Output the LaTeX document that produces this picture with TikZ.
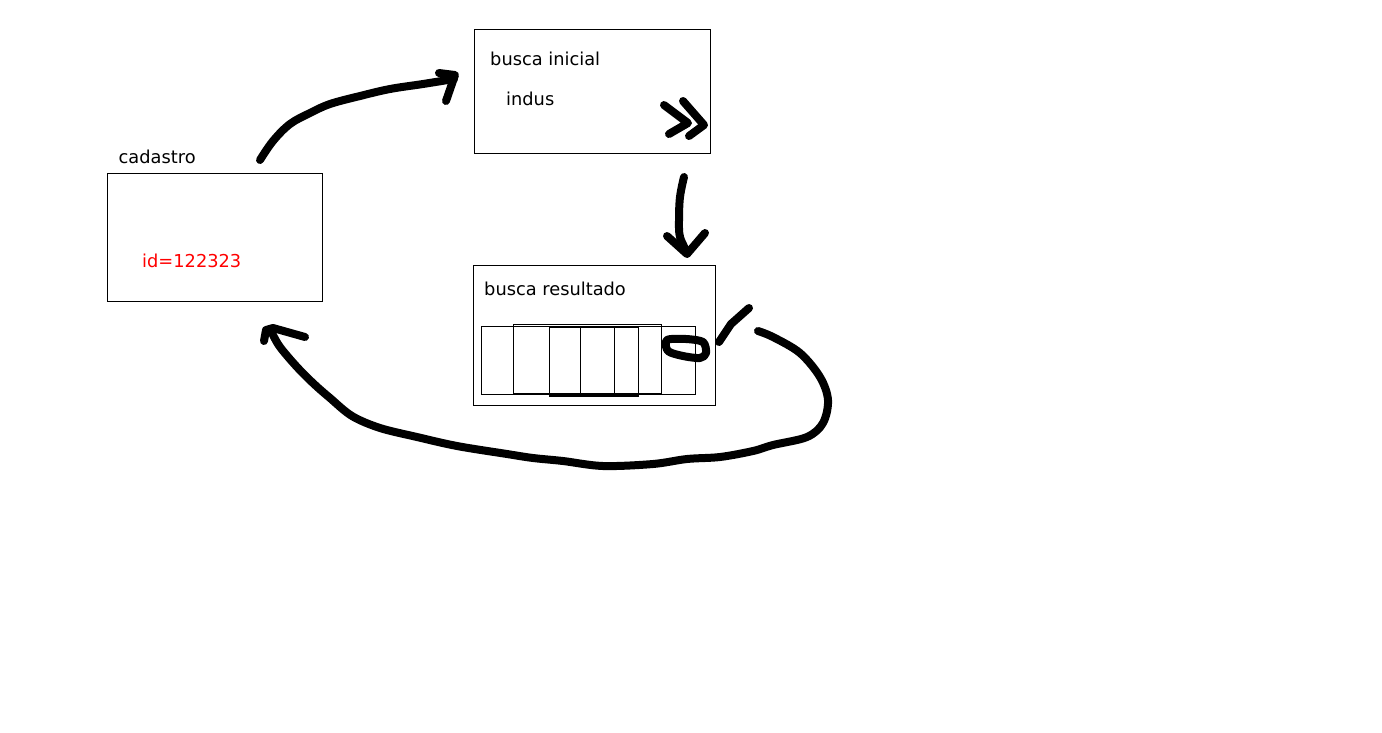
\documentclass[tikz,border=0pt]{standalone}
\usepackage{fontspec}
\setmainfont{DejaVu Sans}
\begin{document}
\begin{tikzpicture}[x=1pt,y=-1pt,
  box/.style={draw,line width=1pt,inner sep=0pt,anchor=north west},
  lbl/.style={anchor=base west,inner sep=0pt,font=\fontsize{17.8}{20}\selectfont},
  pen/.style={line width=8pt,line cap=round,line join=round},
  thin/.style={line width=1pt}]
\useasboundingbox (0,0) rectangle (1382,732);
% boxes
\node[box,minimum width=215pt,minimum height=128pt] (cad) at (107,173) {};
\node[box,minimum width=236pt,minimum height=124pt] (ini) at (474,29) {};
\node[box,minimum width=242pt,minimum height=140pt] (res) at (473,265) {};
% labels
\node[lbl] (tcad) at (118.5,163) {cadastro};
\node[lbl,text=red] (tid) at (142,267) {id=122323};
\node[lbl] (tini) at (490,65) {busca inicial};
\node[lbl] (tind) at (506,105) {indus};
\node[lbl] (tres) at (484,295) {busca resultado};
% result strip
\node[box,thin,minimum width=214pt,minimum height=68pt] (r1) at (481,326) {};
\node[box,thin,minimum width=148pt,minimum height=69pt] (r2) at (513,324) {};
\node[box,thin,minimum width=89pt,minimum height=68pt] (r3) at (549,326.5) {};
\node[box,thin,minimum width=34pt,minimum height=68pt] (r4) at (580,327) {};
\draw[line width=2pt] (r3.south west) -- (r3.south east);
\draw[line width=2pt] (r4.north west) -- (r4.north east);
% top arrow cadastro -> busca inicial
\draw[pen] plot[smooth,tension=0.6] coordinates {(260,160) (273,141) (290,124) (310,113) (330,104) (360,96) (390,89) (423,84) (454,79)};
\draw[pen] (439,73) -- (455,75) -- (446,101);
% chevrons
\draw[pen] (664,105) -- (688,123) -- (669,134);
\draw[pen] (683,101) -- (704,125) -- (689,136);
% down arrow
\draw[pen] plot[smooth,tension=0.6] coordinates {(684,177) (680,197) (679,220) (680,237) (687,252)};
\draw[pen] (667,236) -- (687,254) -- (705,233);
% little loop
\draw[pen] plot[smooth cycle,tension=0.5] coordinates {(667,340) (686,339) (703,342) (706,353) (700,358) (683,356) (668,351)};
% slash
\draw[pen] (719,342) -- (731,324) -- (749,308);
% big return arrow
\draw[pen] plot[smooth,tension=0.55] coordinates {(758,331) (773,337) (800,353) (820,377) (828,400) (823,423) (807,437) (773,445) (753,451) (720,457) (687,459) (653,464) (603,466) (563,461) (533,458) (507,454) (457,446) (417,437) (380,428) (352,416) (330,398) (314,384) (297,367) (280,347) (272,333)};
\draw[pen] (264,341) -- (266,330) -- (273,328) -- (305,337);
\end{tikzpicture}
\end{document}
